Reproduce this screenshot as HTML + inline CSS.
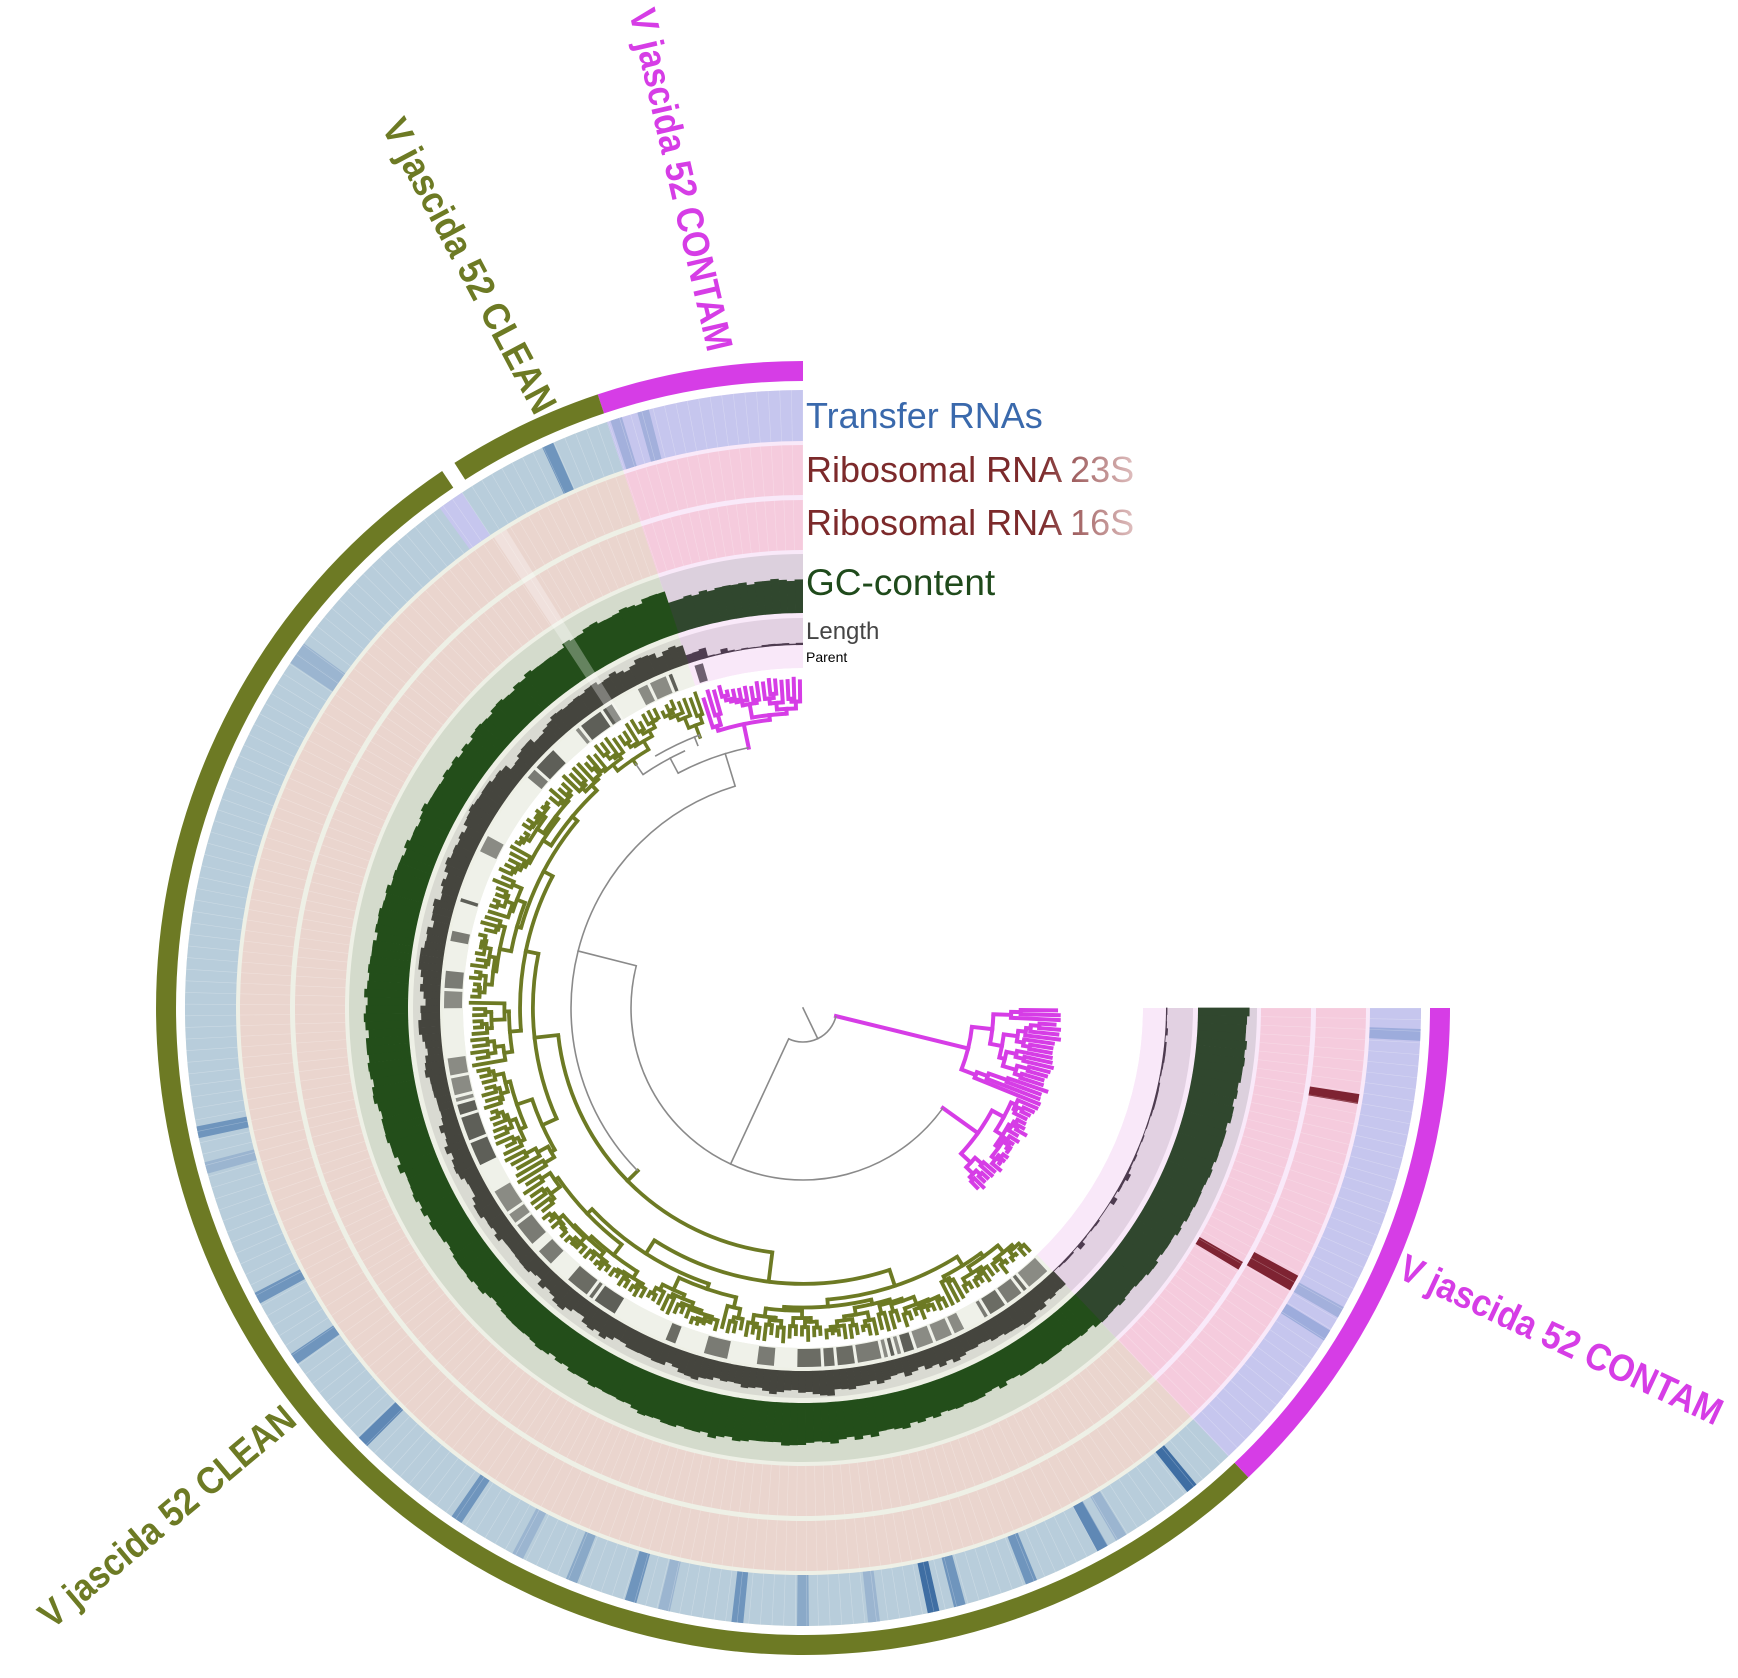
<!DOCTYPE html>
<html><head><meta charset="utf-8">
<style>
html,body{margin:0;padding:0;background:#fff;}
svg{display:block;}
.lab{font-family:"Liberation Sans Narrow","Liberation Sans",sans-serif;font-weight:bold;font-size:38px;font-stretch:condensed;}
.leg{font-family:"Liberation Sans",sans-serif;}
</style></head>
<body>
<svg id="svg" width="1738" height="1678" viewBox="0 0 1738 1678" xmlns="http://www.w3.org/2000/svg">
<defs>
<linearGradient id="fade" gradientUnits="userSpaceOnUse" x1="1040" y1="0" x2="1150" y2="0">
<stop offset="0" stop-color="#7c2a2b"/><stop offset="1" stop-color="#f0d8d8"/>
</linearGradient>
<clipPath id="legclip"><rect x="800" y="380" width="350" height="200"/></clipPath>
</defs>
<g id="g"></g>
<g class="leg">
<text x="806" y="428" font-size="36" fill="#3a69ac">Transfer RNAs</text>
<g clip-path="url(#legclip)">
<text x="806" y="482" font-size="36" fill="url(#fade)">Ribosomal RNA 23S</text>
<text x="806" y="535" font-size="36" fill="url(#fade)">Ribosomal RNA 16S</text>
</g>
<text x="806" y="595" font-size="37" fill="#1f4a1b">GC-content</text>
<text x="806" y="639" font-size="24" fill="#454545">Length</text>
<text x="806" y="662" font-size="14" fill="#000">Parent</text>
</g>
<text class="lab" fill="#d63de6" transform="translate(629,12) rotate(77)" textLength="350" lengthAdjust="spacingAndGlyphs">V jascida 52 CONTAM</text>
<text class="lab" fill="#6d7a24" transform="translate(381,127) rotate(62)" textLength="328" lengthAdjust="spacingAndGlyphs">V jascida 52 CLEAN</text>
<text class="lab" fill="#d63de6" transform="translate(1396,1277) rotate(25)" textLength="352" lengthAdjust="spacingAndGlyphs">V jascida 52 CONTAM</text>
<text class="lab" fill="#6d7a24" transform="translate(52,1630) rotate(-40)" textLength="322" lengthAdjust="spacingAndGlyphs">V jascida 52 CLEAN</text>
</svg>
<script>
(function(){
var cx=803,cy=1008,out=[];
var seed=12345;function rnd(){seed=(seed*1103515245+12345)%2147483648;return seed/2147483648;}
function P(r,a){var t=a*Math.PI/180;return (cx-r*Math.sin(t)).toFixed(2)+","+(cy-r*Math.cos(t)).toFixed(2);}
function sec(r1,r2,a1,a2,fill,op){if(a2<a1){var t=a1;a1=a2;a2=t;}var L=(a2-a1)>180?1:0;
out.push('<path d="M'+P(r2,a1)+' A'+r2+' '+r2+' 0 '+L+' 0 '+P(r2,a2)+' L'+P(r1,a2)+' A'+r1+' '+r1+' 0 '+L+' 1 '+P(r1,a1)+'Z" fill="'+fill+'"'+(op?' opacity="'+op+'"':'')+'/>');}
function arc(r,a1,a2,c,w){if(a2<a1){var t=a1;a1=a2;a2=t;}if(a2-a1<0.01)return;var L=(a2-a1)>180?1:0;
out.push('<path d="M'+P(r,a1)+' A'+r+' '+r+' 0 '+L+' 0 '+P(r,a2)+'" fill="none" stroke="'+c+'" stroke-width="'+w+'"/>');}
function rad(r1,r2,a,c,w){out.push('<path d="M'+P(r1,a)+' L'+P(r2,a)+'" stroke="'+c+'" stroke-width="'+w+'" stroke-linecap="square"/>');}
var N=250,W=270/N;
function isC(a){return a<18.5||a>223.5;}
sec(340,618,0,18.5,"#f9e9f9");sec(340,618,18.5,223.5,"#eef0e6");sec(340,618,223.5,270,"#f9e9f9");
sec(627,647,0,18.5,"#d63de6");sec(627,647,18.5,32.6,"#6d7a24");sec(627,647,33.9,223.5,"#6d7a24");sec(627,647,223.5,270,"#d63de6");
sec(567,618,0,18.5,"#c6c6ee");sec(567,618,18.5,223.5,"#b8cddb");sec(567,618,223.5,270,"#c6c6ee");
sec(567,618,33.5,36,"#c6c6ee");
var hits=[[24.4,"#6f95bd"],[54.4,"#9bb5d0"],[55.5,"#9bb5d0"],[101.6,"#6f95bd"],[105,"#9bb5d0"],[118,"#6f95bd"],[124.6,"#6f95bd"],[134.6,"#5f88b5"],[145.9,"#6f95bd"],[152.5,"#9bb5d0"],[158,"#8aa9c8"],[163.8,"#6f95bd"],[167,"#9bb5d0"],[173.9,"#6f95bd"],[180,"#8aa9c8"],[186.6,"#9bb5d0"],[192.2,"#3f6ea3"],[194.7,"#6f95bd"],[201.7,"#6f95bd"],[209,"#5f88b5"],[211,"#9bb5d0"],[219,"#3f6ea3"],
[15,"#a3b0dc"],[17.6,"#a3b0dc"],[238,"#9dacdc"],[240.5,"#a3b0dc"],[267.5,"#9dacdc"]];
hits.forEach(function(h){sec(567,618,h[0]-0.55,h[0]+0.55,h[1]);});
[[513,563],[458,508]].forEach(function(rr){sec(rr[0],rr[1],0,18.5,"#f5cbdd");sec(rr[0],rr[1],18.5,223.5,"#ead5ce");sec(rr[0],rr[1],223.5,270,"#f5cbdd");});
sec(513,563,260.2,261.2,"#7e2332");sec(513,563,239.9,241.6,"#7e2332");sec(458,508,239.0,240.0,"#7e2332");
for(var i=0;i<=N;i++){var a=i*W;out.push('<path d="M'+P(458,a)+' L'+P(508,a)+' M'+P(513,a)+' L'+P(563,a)+' M'+P(567,a)+' L'+P(618,a)+'" stroke="#ffffff" stroke-opacity="0.28" stroke-width="0.6"/>');}
sec(395,454,0,18.5,"#dcd0dd");sec(395,454,18.5,223.5,"#d4dbcc");sec(395,454,223.5,270,"#dcd0dd");
for(var i=0;i<N;i++){var a1=i*W,a2=a1+W+0.05,am=a1+W/2,h;
 if(am<18.5){h=31+rnd()*4;}
 else if(am>223.5){h=36+(am-223.5)/46.5*13+rnd()*3;if(h>55)h=55;}
 else{h=35+5*Math.sin(i*0.09)+rnd()*5;}
 sec(395,395+h,a1,a2,isC(am)?"#30472e":"#234e1a");}
sec(363,390,0,18.5,"#e2d1e2");sec(363,390,18.5,223.5,"#d9dad2");sec(363,390,223.5,270,"#e2d1e2");
var prev=18;
for(var i=0;i<N;i++){var a1=i*W,a2=a1+W+0.05,am=a1+W/2,h;
 if(isC(am)){h=0.8+rnd()*1.8;if(rnd()<0.08)h=5;if(am>15&&am<18.5)h=4+rnd()*8;}
 else{h=prev*0.5+(12+rnd()*15)*0.5;prev=h;}
 sec(363,363+h,a1,a2,isC(am)?"#4e3c50":"#45453e");}
sec(340,360,0,18.5,"#f9e8f9");sec(340,360,18.5,223.5,"#eff1e9");sec(340,360,223.5,270,"#f9e8f9");
var a=19;var cols=["#6b6c64","#8a8b84","#5e5f58","#7a7b74"];
while(a<223){var len=(1+Math.floor(rnd()*4))*W;if(rnd()<0.62){var b=Math.min(a+len,223.5);sec(341,359,a+0.25,b-0.25,cols[Math.floor(rnd()*4)]);}a+=len;}
sec(341,359,16.2,17.6,"#6e5f70");
sec(340,563,31.8,33.3,"#ffffff",0.3);
function leafA(i){return (i+0.5)*W;}
function build(i0,i1,r0,rmax,c,w,first){
 var n=i1-i0+1,r;
 if(n==1){var a=leafA(i0);var rl=rmax-rnd()*8;rad(r0,rl,a,c,w);return a;}
 r=first?r0:r0+(rmax-r0)*(0.08+rnd()*0.3);
 var sp=i0+1+Math.floor((n-1)*(0.15+0.7*rnd()));if(sp>i1)sp=i1;
 var aa=build(i0,sp-1,r,rmax,c,w),ab=build(sp,i1,r,rmax,c,w);
 arc(r,aa,ab,c,w);var am=(aa+ab)/2;if(!first)rad(r0,r,am,c,w);return am;}
function idx(a){return Math.floor(a/W);}
var OL="#6d7a24",MG="#d63de6",GR="#8a8a8a";
var c1=build(idx(19),idx(25.5),290,334,OL,3.5);
var c2=build(idx(26),idx(40),296,334,OL,3.5);
arc(292,c1,c2-4,GR,1.6);rad(290,292,c1,GR,1.6);
arc(283,(c1+c2)/2-3,c2,GR,1.6);rad(283,296,c2,GR,1.6);rad(283,292,c1+1,GR,1.6);
var cB=build(idx(40.2),idx(223),232,334,OL,3.8);
var mT=build(idx(0.5),idx(17.5),290,332,MG,4,true);
rad(266,290,mT,MG,4);
arc(266,mT,28,GR,1.6);rad(266,283,28,GR,1.6);
arc(232,17,cB,GR,1.6);rad(232,266,17,GR,1.6);
var mid=(17+cB)/2;rad(172,232,mid,GR,1.6);
var mB=build(idx(224),idx(247),215,256,MG,4,true);
rad(172,215,mB,MG,4);
var mA=build(idx(248),idx(269.4),170,258,MG,4,true);
arc(172,mid,mB,GR,1.6);var mid2=(mid+mB)/2;rad(34,172,mid2,GR,1.6);
rad(34,170,mA,MG,4);
arc(34,mid2,mA,GR,1.6);rad(0,34,(mid2+mA)/2,GR,1.6);
document.getElementById('g').innerHTML=out.join('');
})();
</script>
</body></html>
